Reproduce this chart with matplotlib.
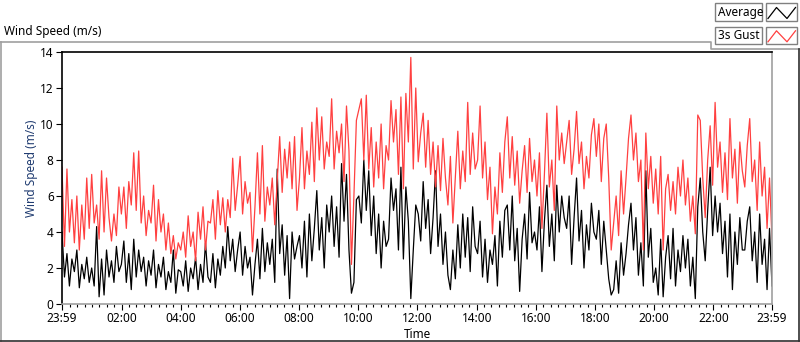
import matplotlib
matplotlib.use('Agg')
import matplotlib.pyplot as plt
import numpy as np
from matplotlib.lines import Line2D
from matplotlib.patches import Rectangle

plt.rcParams['font.family'] = ['Noto Sans', 'DejaVu Sans']

# ---- data (5-minute samples) ----
avg = [
    4.0, 1.5, 2.8, 1.0, 2.5, 1.8, 3.0, 0.9, 2.2, 1.4, 2.6, 1.2,
    2.0, 1.0, 4.3, 0.4, 2.5, 0.5, 3.0, 1.5, 2.4, 1.2, 3.2, 1.8,
    2.2, 3.5, 1.2, 2.8, 0.8, 3.6, 1.5, 3.0, 1.8, 2.6, 1.0, 2.4,
    1.6, 3.0, 0.9, 2.2, 1.5, 2.6, 0.8, 1.8, 1.2, 3.0, 0.6, 1.9,
    1.8, 1.0, 2.4, 0.7, 2.0, 1.4, 2.6, 0.8, 2.2, 1.2, 3.4, 1.5,
    1.2, 2.8, 0.9, 2.5, 1.6, 3.2, 2.0, 4.3, 2.4, 3.6, 1.8, 3.0,
    4.0, 1.6, 3.2, 2.0, 2.6, 0.5, 2.2, 3.6, 1.4, 4.2, 1.8, 3.4,
    2.2, 3.6, 1.2, 7.5, 2.8, 4.4, 1.6, 3.8, 0.3, 4.0, 2.5, 3.2,
    3.8, 2.0, 4.6, 1.5, 5.0, 2.4, 4.2, 6.3, 3.0, 4.8, 2.0, 5.5,
    4.0, 6.0, 3.2, 5.4, 2.6, 7.8, 4.6, 7.2, 3.0, 0.6, 1.2, 5.8,
    6.0, 4.5, 8.0, 5.2, 7.4, 3.8, 6.0, 2.8, 5.0, 2.0, 4.6, 3.2,
    3.6, 7.0, 5.2, 6.4, 3.0, 7.6, 2.5, 6.5, 4.6, 0.3, 3.0, 5.5,
    5.0, 3.5, 6.8, 4.2, 5.8, 2.8, 4.8, 7.4, 3.2, 5.0, 2.2, 4.0,
    1.6, 0.8, 3.0, 1.4, 4.4, 2.0, 5.0, 2.6, 4.8, 1.8, 5.4, 3.2,
    2.8, 4.6, 1.5, 3.6, 1.2, 3.0, 2.2, 3.8, 1.0, 4.6, 2.6, 5.2,
    5.5, 3.0, 6.0, 2.4, 4.2, 0.7, 3.6, 5.0, 2.5, 6.2, 3.4, 4.0,
    3.0, 5.4, 1.8, 4.6, 6.6, 3.2, 5.0, 2.4, 6.6, 4.0, 6.0, 4.8,
    4.2, 6.0, 2.2, 4.8, 7.0, 3.5, 5.2, 2.0, 4.4, 3.0, 5.6, 4.0,
    3.6, 5.2, 2.2, 4.6, 3.0, 1.4, 0.5, 0.8, 2.4, 0.6, 3.4, 1.6,
    2.8, 4.4, 5.6, 3.0, 4.8, 1.6, 3.4, 1.0, 7.4, 2.6, 4.2, 1.2,
    2.0, 0.5, 3.6, 0.4, 2.6, 3.8, 1.4, 4.2, 1.0, 3.0, 1.8, 3.8,
    2.0, 3.6, 1.0, 2.6, 0.3, 5.4, 7.0, 4.0, 2.4, 5.2, 7.6, 3.8,
    6.0, 4.0, 5.6, 2.8, 4.6, 1.5, 5.0, 0.8, 4.0, 2.2, 4.8, 3.0,
    3.0, 4.6, 5.4, 2.4, 4.0, 1.2, 5.0, 2.2, 3.6, 0.8, 4.2, 1.0,
]
gust = [
    7.6, 3.2, 7.5, 4.0, 5.8, 3.4, 6.0, 3.0, 5.5, 3.6, 7.0, 4.2,
    7.2, 4.5, 5.5, 3.6, 7.4, 4.0, 7.0, 4.8, 3.5, 5.0, 3.8, 6.5,
    5.0, 6.5, 4.2, 6.8, 5.5, 8.4, 5.2, 8.5, 4.5, 6.0, 3.8, 5.2,
    4.5, 6.6, 3.5, 5.8, 4.0, 5.0, 3.0, 4.5, 2.8, 3.8, 2.5, 3.4,
    3.0, 4.0, 2.6, 4.9, 3.2, 4.0, 2.4, 5.1, 3.6, 5.4, 3.0, 4.6,
    4.5, 5.8, 3.6, 6.3, 4.4, 5.9, 4.0, 5.8, 4.8, 8.1, 5.2, 6.6,
    8.2, 5.0, 6.8, 5.6, 6.2, 2.9, 5.4, 8.4, 5.0, 8.8, 4.6, 6.5,
    5.5, 7.0, 4.4, 6.8, 9.3, 6.2, 8.6, 7.0, 9.0, 6.4, 9.3, 5.2,
    7.0, 9.8, 6.4, 8.5, 7.2, 10.1, 6.8, 10.9, 8.0, 10.4, 7.5, 9.0,
    8.2, 11.4, 7.5, 9.6, 8.4, 10.0, 6.8, 11.0, 8.5, 2.2, 6.0, 10.2,
    10.8, 11.4, 8.0, 11.6, 7.5, 9.8, 6.5, 9.0, 7.0, 10.0, 6.4, 8.8,
    8.0, 11.3, 9.0, 10.8, 7.2, 11.5, 6.4, 11.7, 9.0, 13.7, 7.5, 12.0,
    7.9, 9.5, 10.6, 7.6, 10.2, 7.2, 9.0, 6.5, 8.8, 6.3, 9.2, 7.0,
    5.5, 8.2, 4.5, 7.0, 9.6, 6.4, 8.5, 6.8, 11.2, 7.2, 9.5, 7.5,
    8.0, 11.0, 7.0, 9.0, 5.8, 7.6, 3.9, 6.5, 5.0, 8.4, 6.2, 9.0,
    10.4, 7.0, 9.3, 6.6, 8.5, 5.6, 7.4, 8.8, 6.2, 9.2, 6.8, 8.0,
    6.0, 8.4, 4.2, 7.2, 10.6, 6.5, 8.0, 5.2, 11.0, 8.0, 9.5, 7.8,
    9.0, 10.2, 7.2, 8.6, 10.7, 7.8, 9.0, 6.4, 8.2, 7.0, 9.4, 10.3,
    8.2, 10.0, 6.8, 9.2, 10.0, 7.0, 3.0, 4.5, 6.0, 3.8, 7.4, 5.0,
    7.0, 9.2, 10.5, 8.0, 9.5, 6.8, 8.0, 3.0, 9.5, 6.4, 8.2, 5.6,
    7.5, 5.0, 8.2, 3.0, 6.4, 7.2, 5.2, 6.8, 5.0, 7.6, 6.0, 8.0,
    5.5, 7.0, 4.6, 6.0, 3.9, 10.5, 10.2, 7.0, 4.8, 8.0, 9.9, 6.6,
    11.2, 7.6, 9.0, 6.2, 8.4, 5.8, 10.3, 7.0, 8.6, 5.6, 9.0, 7.4,
    6.5, 8.8, 10.3, 6.8, 8.0, 5.2, 9.0, 6.0, 7.6, 4.2, 7.0, 3.6,
]
x_start, x_end = -1, 1439          # minutes: 23:59 (previous day) .. 23:59
major_ticks = [-1, 120, 240, 360, 480, 600, 720, 840, 960, 1080, 1200, 1320, 1439]
major_labels = ['23:59', '02:00', '04:00', '06:00', '08:00', '10:00', '12:00',
                '14:00', '16:00', '18:00', '20:00', '22:00', '23:59']
y_ticks = [0, 2, 4, 6, 8, 10, 12, 14]
series_names = ['Average', '3s Gust']
series_colors = ['#000000', '#ff4040']

W, H = 800, 342
fig = plt.figure(figsize=(8, 3.42), dpi=100)
fig.patch.set_facecolor('white')

def fx(x):
    return x / W

def fy(y):
    return 1 - y / H

L, R, T, B = 62, 772, 52, 304
ax = fig.add_axes([fx(L), fy(B), fx(R) - fx(L), fy(T) - fy(B)])

t = np.linspace(x_start, x_end, len(avg))
ax.plot(t, avg, color=series_colors[0], lw=0.9)
ax.plot(t, gust, color=series_colors[1], lw=0.9)

ax.set_xlim(x_start, x_end)
ax.set_ylim(0, 14)
ax.set_yticks(y_ticks)
ax.set_yticklabels([str(v) for v in y_ticks])
ax.set_xticks(major_ticks)
ax.set_xticklabels(major_labels)
ax.set_xticks([m for m in range(15, 1440, 15) if m % 120 != 0], minor=True)
ax.tick_params(axis='both', which='major', direction='out', length=4, width=0.8,
               labelsize=8.5, pad=2, colors='black')
ax.tick_params(axis='x', which='minor', direction='out', length=2.5, width=0.8)
ax.tick_params(axis='y', which='minor', left=False)

for side in ['top', 'left']:
    ax.spines[side].set_color('black')
    ax.spines[side].set_linewidth(1.2)
for side in ['right', 'bottom']:
    ax.spines[side].set_color('#a0a0a0')
    ax.spines[side].set_linewidth(1.2)

fig.text(fx(417), fy(335), 'Time', ha='center', va='center', fontsize=8.5)
fig.text(fx(32), fy(168), 'Wind Speed (m/s)', rotation=90, ha='center', va='center',
         fontsize=8.5, color='#1f3b70')
fig.text(fx(4), fy(31), 'Wind Speed (m/s)', ha='left', va='center', fontsize=8.5)

# outer frame
gray = '#a0a0a0'
dark = '#303030'
fig.add_artist(Line2D([fx(0.5), fx(0.5)], [fy(42), fy(341)], color=gray, lw=1.2))
fig.add_artist(Line2D([fx(0), fx(711), fx(711), fx(800)], [fy(42), fy(42), fy(49), fy(49)],
                      color=gray, lw=1.2))
fig.add_artist(Line2D([fx(799), fx(799)], [fy(49), fy(341)], color=dark, lw=1.2))
fig.add_artist(Line2D([fx(0), fx(800)], [fy(341), fy(341)], color=dark, lw=1.2))

# legend
for i, (name, col) in enumerate(zip(series_names, series_colors)):
    y0 = 3.5 + i * 23.3
    fig.add_artist(Rectangle((fx(715), fy(y0 + 17.5)), fx(762) - fx(715), fy(y0) - fy(y0 + 17.5),
                             facecolor='white', edgecolor='#808080', lw=1.0))
    fig.text(fx(717.5), fy(y0 + 8.8), name, ha='left', va='center', fontsize=8.5)
    fig.add_artist(Rectangle((fx(766), fy(y0 + 17.5)), fx(796.5) - fx(766), fy(y0) - fy(y0 + 17.5),
                             facecolor='white', edgecolor='#808080', lw=1.0))
    fig.add_artist(Line2D([fx(768), fx(776.5), fx(787), fx(795.5)],
                          [fy(y0 + 15), fy(y0 + 4), fy(y0 + 15), fy(y0 + 4)],
                          color=col, lw=0.9))

fig.savefig('out.png', dpi=100, facecolor='white')
